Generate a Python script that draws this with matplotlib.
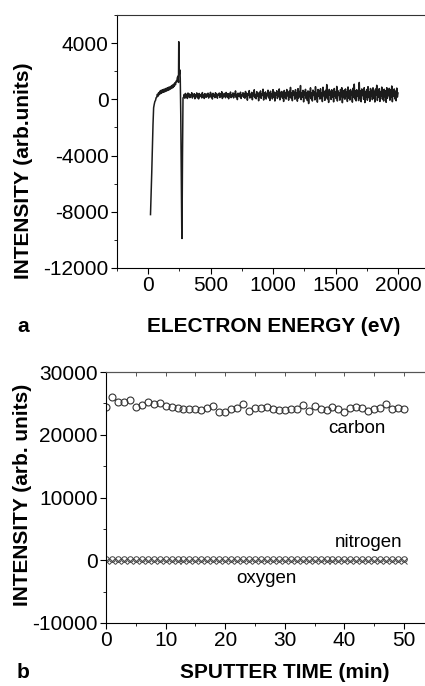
import numpy as np
import matplotlib
matplotlib.use('Agg')
import matplotlib.pyplot as plt
from matplotlib.ticker import MultipleLocator

plt.rcParams['font.family'] = ['Liberation Sans', 'DejaVu Sans']
plt.rcParams['axes.unicode_minus'] = False

# panel a: AES spectrum, steep part below the noise band
energy_head = [20, 25, 30, 35, 40, 45, 50, 55, 60, 65, 70, 75, 80, 85, 90, 95,
               100, 105, 110, 115, 120, 125, 130, 135, 140, 145, 150, 155, 160,
               165, 170, 175, 180, 185, 190, 195, 200, 205, 210, 215, 220, 225,
               230, 235, 240, 244, 246, 248, 250, 252, 254, 256, 258, 262, 266,
               270, 272, 276, 280]
signal_head = [-8200, -6800, -5200, -3500, -1800, -600, -350, -150, -80, 120,
               140, 360, 220, 480, 330, 580, 400, 640, 450, 680, 500, 710, 520,
               740, 560, 780, 600, 820, 640, 860, 680, 890, 730, 940, 780, 1010,
               840, 1080, 920, 1180, 1040, 1300, 1260, 1550, 1650, 1200, 4100,
               1900, 2000, 1800, 2100, 1900, 1500, -1000, -5000, -9200, -9900,
               -4000, 100]

# noisy tail, 285 .. 2000 eV in 5 eV steps
energy_tail = list(range(285, 2001, 5))
signal_tail = [
    150, 350, 80, 420, 200, 310, 60, 450, 180, 390, 120, 300, 260, 470, 90, 340, 210, 400, 40, 330,
    230, 460, 110, 360, 30, 420, 190, 280, 350, 100, 480, 170, 300, 60, 410, 250, 140, 380, 210, 440,
    90, 330, 270, 500, 150, 360, 20, 430, 240, 310, 120, 470, 200, 380, 80, 350, 290, 450, 130, 400,
    220, 540, 60, 370, 180, 420, 270, 110, 490, 300, 160, 410, 40, 360, 250, 520, 120, 330, 200, 460,
    100, 390, 280, 600, 140, 350, -20, 440, 230, 380, 170, 510, 60, 320, 260, 470, 150, 400, 80, 560,
    210, 430, -60, 380, 300, 620, 90, 360, 180, 500, -30, 420, 250, 680, 120, 340, 40, 550, 230, 410,
    -100, 480, 190, 600, 70, 370, 290, 720, -50, 440, 160, 530, 20, 390, 260, 650, 100, 470, -80, 580,
    210, 400, 30, 690, 150, 520, -120, 450, 280, 610, 60, 370, 190, 740, -40, 500, 230, 560, 90, 420,
    -150, 630, 170, 480, 20, 700, 260, 390, -60, 580, 140, 850, 80, 450, -100, 620, 300, 510, 10, 690,
    180, 440, -130, 760, 90, 560, 250, 980, -20, 470, 150, 640, -180, 530, 320, 710, 60, 480, -90, 600,
    -300, 520, 200, 820, 40, 470, -120, 660, 280, 540, -40, 900, 130, 430, -200, 700, 210, 590, 20, 750,
    110, 480, -160, 860, 260, 530, -70, 640, 170, 1050, 30, 500, -220, 710, 300, 580, -10, 680, 140, 460,
    -180, 770, 220, 540, 60, 920, -120, 610, 280, 480, -60, 700, 190, 830, -240, 560, 120, 650, 10, 740,
    240, 510, -150, 880, 90, 620, -50, 700, 310, 560, -200, 790, 150, 1080, 20, 600, -110, 680, 230, 520,
    -90, 1200, 100, 590, -170, 740, 270, 620, 0, 830, -230, 560, 180, 700, -60, 900, 130, 540, -140, 770,
    210, 640, -20, 820, 80, 580, -190, 730, 290, 1000, -80, 610, 150, 760, -150, 550, 240, 870, 20, 650,
    -120, 720, 190, 600, -210, 830, 70, 560, 260, 780, -60, 690, 140, 950, -170, 610, 220, 740, 30, 580,
    -100, 800, 160, 450,
]

# panel b: depth profile
sputter_time = list(range(0, 51))
carbon = [24500, 26050, 25260, 25150, 25500, 24370, 24740, 25260, 24840, 25000,
          24630, 24470, 24200, 24100, 24100, 24050, 23950, 24200, 24580, 23700,
          23700, 24050, 24300, 24850, 23800, 24200, 24300, 24370, 24100, 23950,
          23950, 24050, 24100, 24740, 23800, 24580, 24050, 23950, 24470, 24100,
          23700, 24200, 24370, 24300, 23850, 24050, 24200, 24850, 24050, 24300,
          24050]
nitrogen = [150, 120, 160, 140, 130, 170, 150, 120, 140, 160, 130, 150, 170, 140,
            120, 160, 150, 180, 140, 130, 150, 160, 120, 140, 170, 150, 130, 160,
            140, 120, 150, 170, 130, 140, 160, 150, 120, 140, 170, 130, 150, 160,
            140, 120, 150, 170, 140, 130, 160, 150, 140]
oxygen = [-60, -80, -50, -70, -90, -60, -40, -80, -70, -50, -90, -60, -70, -80,
          -50, -60, -90, -70, -40, -80, -60, -50, -70, -90, -60, -80, -50, -70,
          -60, -90, -40, -70, -80, -60, -50, -70, -90, -60, -80, -50, -70, -60,
          -90, -40, -70, -80, -60, -50, -70, -60, -80]

fig = plt.figure(figsize=(4.25, 6.86), dpi=100)
W, H = 425.0, 686.0


def box(x0, y0, x1, y1):
    return [x0 / W, 1 - y1 / H, (x1 - x0) / W, (y1 - y0) / H]


line_col = '#1c1c1c'
tick_fs = 15
lab_fs = 15

# ---- panel a ----
ax1 = fig.add_axes(box(116.75, 15, 429.25, 268))
ax1.plot(energy_head + energy_tail, signal_head + signal_tail,
         color=line_col, lw=1.1)
ax1.set_xlim(-250, 2250)
ax1.set_ylim(-12000, 6000)
ax1.set_yticks([4000, 0, -4000, -8000, -12000])
ax1.set_xticks([0, 500, 1000, 1500, 2000])
ax1.xaxis.set_minor_locator(MultipleLocator(250))
ax1.yaxis.set_minor_locator(MultipleLocator(2000))
ax1.tick_params(which='major', direction='out', length=4, width=0.8,
                labelsize=tick_fs, pad=2)
ax1.tick_params(which='minor', direction='out', length=2.5, width=0.6)
ax1.spines['right'].set_visible(False)
ax1.spines['top'].set_color('#333333')

fig.text(274 / W, 1 - 326 / H, 'ELECTRON ENERGY (eV)', ha='center',
         va='center', fontsize=lab_fs, fontweight='bold')
fig.text(24 / W, 1 - 171 / H, 'INTENSITY (arb.units)', ha='center',
         va='center', rotation=90, fontsize=lab_fs, fontweight='bold')
fig.text(23 / W, 1 - 326 / H, 'a', ha='center', va='center', fontsize=lab_fs,
         fontweight='bold')

# ---- panel b ----
ax2 = fig.add_axes(box(106, 372, 433.8, 623))
ax2.plot(sputter_time, carbon, 'o', mfc='none', mec='#333333', ms=5,
         mew=0.8)
ax2.plot(sputter_time, nitrogen, 'o', mfc='none', mec='#444444', ms=4,
         mew=0.7)
ax2.plot(sputter_time, oxygen, 'x', color='#444444', ms=4, mew=0.7)
ax2.set_xlim(0, 55)
ax2.set_ylim(-10000, 30000)
ax2.set_xticks([0, 10, 20, 30, 40, 50])
ax2.set_yticks([-10000, 0, 10000, 20000, 30000])
ax2.xaxis.set_minor_locator(MultipleLocator(5))
ax2.yaxis.set_minor_locator(MultipleLocator(5000))
ax2.tick_params(which='major', direction='out', length=4, width=0.8,
                labelsize=tick_fs, pad=2)
ax2.tick_params(which='minor', direction='out', length=2.5, width=0.6)
ax2.spines['right'].set_visible(False)
ax2.spines['top'].set_color('#555555')
sec = ax2.secondary_xaxis('top')
sec.set_xticks([5, 10, 15, 20, 25, 30, 35, 40, 45, 50])
sec.tick_params(direction='in', length=3, width=0.7, labeltop=False,
                color='#555555')
sec.spines['top'].set_color('#555555')

ax2.text(42.1, 21000, 'carbon', ha='center', va='center', fontsize=13.5)
ax2.text(44.1, 2900, 'nitrogen', ha='center', va='center', fontsize=13.5)
ax2.text(27.0, -2900, 'oxygen', ha='center', va='center', fontsize=13.5)

fig.text(285 / W, 1 - 673 / H, 'SPUTTER TIME (min)', ha='center',
         va='center', fontsize=lab_fs, fontweight='bold')
fig.text(23 / W, 1 - 495 / H, 'INTENSITY (arb. units)', ha='center',
         va='center', rotation=90, fontsize=lab_fs, fontweight='bold')
fig.text(23 / W, 1 - 673 / H, 'b', ha='center', va='center', fontsize=lab_fs,
         fontweight='bold')

fig.savefig('out.png', dpi=100)
